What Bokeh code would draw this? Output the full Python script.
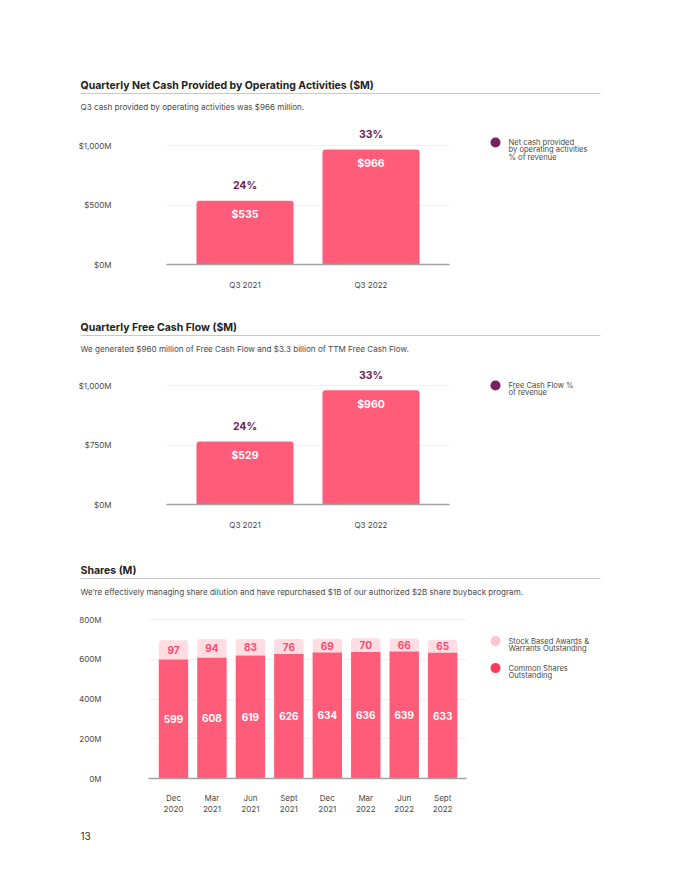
from bokeh.plotting import figure
from bokeh.models import Range1d, FixedTicker
from bokeh.layouts import column, row
from bokeh.core.properties import value
from bokeh.embed import file_html
from bokeh.resources import INLINE

# ---- data -------------------------------------------------------------
ocf_quarters = ["Q3 2021", "Q3 2022"]
ocf_values = [535, 966]
ocf_margin = [24, 33]
ocf_ticks = [0, 500, 1000]
ocf_tick_labels = ["$0M", "$500M", "$1,000M"]

fcf_quarters = ["Q3 2021", "Q3 2022"]
fcf_values = [529, 960]
fcf_margin = [24, 33]
fcf_ticks = [0, 500, 1000]
fcf_tick_labels = ["$0M", "$750M", "$1,000M"]

share_periods = ["Dec\n2020", "Mar\n2021", "Jun\n2021", "Sept\n2021",
                 "Dec\n2021", "Mar\n2022", "Jun\n2022", "Sept\n2022"]
common_shares = [599, 608, 619, 626, 634, 636, 639, 633]
sbc_awards = [97, 94, 83, 76, 69, 70, 66, 65]
share_ticks = [0, 200, 400, 600, 800]
share_tick_labels = ["0M", "200M", "400M", "600M", "800M"]

# ---- styling ----------------------------------------------------------
FONT = "Inter"
PAGE_W = 680
BAR = "#FF5C7A"
BAR_LIGHT = "#FFDDE3"
DOT_LIGHT = "#FFC4CF"
DOT_RED = "#FF385C"
LABEL_RED = "#FF4A6B"
PURPLE = "#6F1C52"
DOT_PURPLE = "#7A1F60"
TITLE_C = "#222222"
TEXT_C = "#4A4A4A"
GRID_C = "#F1F1F1"
BASE_C = "#A3A3A3"


def canvas(x0, top, width, height):
    """A blank figure whose data coordinates are page pixels (y downward)."""
    p = figure(width=width, height=height,
               x_range=Range1d(x0, x0 + width), y_range=Range1d(top + height, top),
               x_axis_type=None, y_axis_type=None, title_location=None,
               min_border=0, toolbar_location=None, output_backend="svg",
               outline_line_color=None, background_fill_color="white",
               border_fill_color="white")
    p.margin = 0
    return p


def write(p, x, y, txt, size, color, bold=False, align="left"):
    p.text(x=[x], y=[y], text=[txt], text_font=value(FONT),
           text_font_size=f"{size}px", text_color=color,
           text_font_style="bold" if bold else "normal",
           text_align=align, text_baseline="middle")


def header(top, height, title, subtitle, title_y):
    p = canvas(0, top, PAGE_W, height)
    write(p, 80, title_y, title, 10.5, TITLE_C, bold=True)
    p.segment(x0=[80], y0=[title_y + 8], x1=[600], y1=[title_y + 8],
              line_color="#C9C9C9", line_width=1)
    write(p, 80, title_y + 21, subtitle, 8.1, TEXT_C)
    return p


def style_axes(p, yticks, ylabels, xticks, xlabels, y_standoff, x_standoff):
    p.yaxis.ticker = FixedTicker(ticks=yticks)
    p.yaxis.major_label_overrides = dict(zip(yticks, ylabels))
    p.xaxis.ticker = FixedTicker(ticks=xticks)
    p.xaxis.major_label_overrides = dict(zip(xticks, xlabels))
    for ax in (p.xaxis, p.yaxis):
        ax.major_tick_line_color = None
        ax.minor_tick_line_color = None
        ax.major_tick_out = 0
        ax.major_tick_in = 0
        ax.minor_tick_out = 0
        ax.major_label_text_font = FONT
        ax.major_label_text_font_size = "8px"
        ax.major_label_text_color = TEXT_C
    p.yaxis.axis_line_color = None
    p.yaxis.major_label_standoff = y_standoff
    p.xaxis.axis_line_color = BASE_C
    p.xaxis.axis_line_width = 1.5
    p.xaxis.major_label_standoff = x_standoff
    p.xgrid.grid_line_color = None
    p.ygrid.ticker = FixedTicker(ticks=yticks[1:])
    p.ygrid.grid_line_color = GRID_C


def cash_chart(top, quarters, values, margins, yticks, ylabels):
    px_per_unit = 0.119
    frame_top, frame_bottom = 5, 36
    height = 180
    y_end = (height - frame_top - frame_bottom) / px_per_unit
    p = figure(width=470, height=height,
               x_range=Range1d(-0.623, 1.623), y_range=Range1d(0, y_end),
               min_border_left=166, min_border_right=21,
               min_border_top=frame_top, min_border_bottom=frame_bottom,
               title_location=None, toolbar_location=None, output_backend="svg",
               outline_line_color=None)
    p.margin = 0
    xs = list(range(len(quarters)))
    p.vbar(x=xs, top=values, width=0.77, fill_color=BAR, line_color=None,
           border_radius=(3, 3, 0, 0))
    p.text(x=xs, y=values, text=[f"${v}" for v in values], y_offset=14,
           text_font=value(FONT), text_font_size="10.5px", text_font_style="bold",
           text_color="white", text_align="center", text_baseline="middle")
    p.text(x=xs, y=values, text=[f"{m}%" for m in margins], y_offset=-15,
           text_font=value(FONT), text_font_size="10.5px", text_font_style="bold",
           text_color=PURPLE, text_align="center", text_baseline="middle")
    style_axes(p, yticks, ylabels, xs, quarters, 55, 15)
    return p


def legend_panel(top, height, entries):
    p = canvas(470, top, 210, height)
    for y, color, lines in entries:
        p.scatter(x=[495], y=[y], size=10, marker="circle",
                  fill_color=color, line_color=None)
        for i, line in enumerate(lines):
            write(p, 508, y + i * 9.6, line, 7.6, TEXT_C)
    return p


# ---- section 1: operating cash flow ----------------------------------
head1 = header(0, 120, "Quarterly Net Cash Provided by Operating Activities ($M)",
               "Q3 cash provided by operating activities was $966 million.", 85)
chart1 = cash_chart(120, ocf_quarters, ocf_values, ocf_margin, ocf_ticks, ocf_tick_labels)
leg1 = legend_panel(120, 180, [(142, DOT_PURPLE, ["Net cash provided",
                                                  "by operating activities",
                                                  "% of revenue"])])

# ---- section 2: free cash flow ---------------------------------------
head2 = header(300, 60, "Quarterly Free Cash Flow ($M)",
               "We generated $960 million of Free Cash Flow and $3.3 billion of TTM Free Cash Flow.", 327)
chart2 = cash_chart(360, fcf_quarters, fcf_values, fcf_margin, fcf_ticks, fcf_tick_labels)
leg2 = legend_panel(360, 180, [(386, DOT_PURPLE, ["Free Cash Flow %", "of revenue"])])

# ---- section 3: shares -----------------------------------------------
head3 = header(540, 65, "Shares (M)",
               "We\u2019re effectively managing share dilution and have repurchased $1B of our authorized $2B share buyback program.",
               570)

sh_px = 0.19875
sh_top, sh_bottom, sh_h = 7, 42, 215
chart3 = figure(width=470, height=sh_h,
                x_range=Range1d(-0.65, 7.62),
                y_range=Range1d(0, (sh_h - sh_top - sh_bottom) / sh_px),
                min_border_left=148, min_border_right=4,
                min_border_top=sh_top, min_border_bottom=sh_bottom,
                title_location=None, toolbar_location=None, output_backend="svg",
                outline_line_color=None)
chart3.margin = 0
sx = list(range(len(share_periods)))
totals = [c + s for c, s in zip(common_shares, sbc_awards)]
chart3.vbar(x=sx, bottom=common_shares, top=totals, width=0.765,
            fill_color=BAR_LIGHT, line_color=None, border_radius=(3, 3, 0, 0))
chart3.vbar(x=sx, bottom=0, top=common_shares, width=0.765,
            fill_color=BAR, line_color=None)
chart3.text(x=sx, y=[c / 2 for c in common_shares], text=[str(c) for c in common_shares],
            text_font=value(FONT), text_font_size="10px", text_font_style="bold",
            text_color="white", text_align="center", text_baseline="middle")
chart3.text(x=sx, y=[c + s / 2 for c, s in zip(common_shares, sbc_awards)],
            text=[str(s) for s in sbc_awards],
            text_font=value(FONT), text_font_size="10px", text_font_style="bold",
            text_color=LABEL_RED, text_align="center", text_baseline="middle")
style_axes(chart3, share_ticks, share_tick_labels, sx, share_periods, 47, 14)
chart3.xaxis.major_label_text_line_height = 1.12
leg3 = legend_panel(605, 215, [(642, DOT_LIGHT, ["Stock Based Awards &", "Warrants Outstanding"]),
                               (677, DOT_RED, ["Common Shares", "Outstanding"])])

# ---- footer -----------------------------------------------------------
foot = canvas(0, 820, PAGE_W, 60)
write(foot, 80, 835, "13", 10, "#333333")

page = column(head1, row(chart1, leg1), head2, row(chart2, leg2),
              head3, row(chart3, leg3), foot, spacing=0)

open("out.html", "w").write(file_html(page, INLINE))
